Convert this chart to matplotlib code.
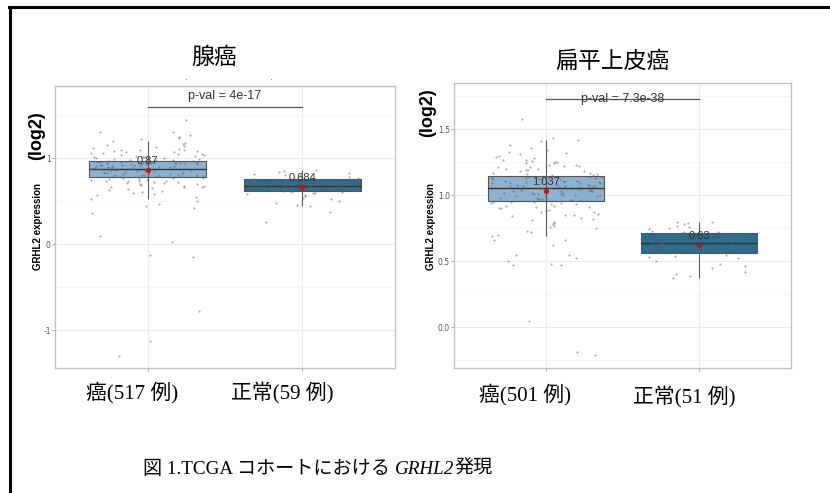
import math
import matplotlib
matplotlib.use("Agg")
import matplotlib.pyplot as plt
from matplotlib.lines import Line2D

SERIF_CJK = ['Liberation Serif', 'Noto Sans CJK JP']
SANS = ['Liberation Sans', 'DejaVu Sans']

# ---- data ----
panel_titles = ['腺癌', '扁平上皮癌']
group_labels = [['癌(517 例)', '正常(59 例)'], ['癌(501 例)', '正常(51 例)']]
p_values = ['p-val = 4e-17', 'p-val = 7.3e-38']
mean_labels = [['0.87', '0.684'], ['1.037', '0.63']]

box_q1 = [[0.78, 0.62], [0.955, 0.56]]
box_med = [[0.88, 0.675], [1.053, 0.636]]
box_q3 = [[0.965, 0.755], [1.144, 0.71]]
whisk_lo = [[0.53, 0.45], [0.69, 0.37]]
whisk_hi = [[1.20, 0.86], [1.42, 0.80]]
means = [[0.86, 0.66], [1.03, 0.62]]

adeno_cancer = [
    0.53, 0.55, 0.57, 0.58, 0.60, 0.61, 0.62, 0.63, 0.64, 0.65, 0.66, 0.66, 0.67, 0.68,
    0.68, 0.69, 0.70, 0.70, 0.71, 0.71, 0.72, 0.72, 0.73, 0.73, 0.74, 0.74, 0.75, 0.75,
    0.76, 0.76, 0.77, 0.77, 0.77, 0.78, 0.78, 0.79, 0.79, 0.79, 0.80, 0.80, 0.80, 0.81,
    0.81, 0.81, 0.82, 0.82, 0.82, 0.83, 0.83, 0.83, 0.84, 0.84, 0.84, 0.85, 0.85, 0.85,
    0.85, 0.86, 0.86, 0.86, 0.86, 0.87, 0.87, 0.87, 0.87, 0.88, 0.88, 0.88, 0.88, 0.88,
    0.89, 0.89, 0.89, 0.89, 0.90, 0.90, 0.90, 0.90, 0.91, 0.91, 0.91, 0.91, 0.92, 0.92,
    0.92, 0.92, 0.93, 0.93, 0.93, 0.93, 0.94, 0.94, 0.94, 0.94, 0.95, 0.95, 0.95, 0.95,
    0.96, 0.96, 0.96, 0.96, 0.96, 0.97, 0.97, 0.97, 0.98, 0.98, 0.98, 0.99, 0.99, 1.00,
    1.00, 1.01, 1.01, 1.02, 1.02, 1.03, 1.03, 1.04, 1.04, 1.05, 1.05, 1.06, 1.06, 1.07,
    1.07, 1.08, 1.08, 1.09, 1.10, 1.10, 1.11, 1.12, 1.13, 1.14, 1.15, 1.16, 1.18, 1.20,
    1.22, 1.24, 1.25, 1.27, 1.30, 1.31, 1.44, 0.50, 0.47, 0.44, 0.42, 0.36, 0.10, 0.02,
    -0.12, -0.15, -0.78, -1.13, -1.30,
]
adeno_normal = [
    0.26, 0.37, 0.44, 0.46, 0.48, 0.50, 0.52, 0.54, 0.56, 0.57, 0.58, 0.59, 0.60, 0.61,
    0.61, 0.62, 0.62, 0.63, 0.63, 0.64, 0.64, 0.65, 0.65, 0.66, 0.66, 0.66, 0.67, 0.67,
    0.67, 0.68, 0.68, 0.68, 0.69, 0.69, 0.69, 0.70, 0.70, 0.71, 0.71, 0.72, 0.72, 0.73,
    0.73, 0.74, 0.74, 0.75, 0.75, 0.76, 0.76, 0.77, 0.78, 0.79, 0.80, 0.81, 0.82, 0.83,
    0.84, 0.85, 0.86,
]
squam_cancer = [
    0.69, 0.70, 0.72, 0.73, 0.75, 0.76, 0.77, 0.78, 0.79, 0.80, 0.81, 0.82, 0.83, 0.84,
    0.85, 0.85, 0.86, 0.87, 0.87, 0.88, 0.89, 0.89, 0.90, 0.90, 0.91, 0.91, 0.92, 0.92,
    0.93, 0.93, 0.94, 0.94, 0.95, 0.95, 0.95, 0.96, 0.96, 0.96, 0.97, 0.97, 0.97, 0.98,
    0.98, 0.98, 0.99, 0.99, 0.99, 1.00, 1.00, 1.00, 1.01, 1.01, 1.01, 1.02, 1.02, 1.02,
    1.03, 1.03, 1.03, 1.03, 1.04, 1.04, 1.04, 1.04, 1.05, 1.05, 1.05, 1.05, 1.05, 1.05,
    1.06, 1.06, 1.06, 1.06, 1.07, 1.07, 1.07, 1.07, 1.08, 1.08, 1.08, 1.08, 1.09, 1.09,
    1.09, 1.09, 1.10, 1.10, 1.10, 1.10, 1.11, 1.11, 1.11, 1.11, 1.12, 1.12, 1.12, 1.12,
    1.13, 1.13, 1.13, 1.13, 1.14, 1.14, 1.14, 1.15, 1.15, 1.16, 1.16, 1.17, 1.17, 1.18,
    1.18, 1.19, 1.19, 1.20, 1.20, 1.21, 1.21, 1.22, 1.22, 1.23, 1.23, 1.24, 1.24, 1.25,
    1.25, 1.26, 1.27, 1.27, 1.28, 1.29, 1.30, 1.31, 1.32, 1.33, 1.34, 1.36, 1.38, 1.42,
    1.58, 1.43, 1.41, 0.66, 0.66, 0.62, 0.55, 0.55, 0.52, 0.50, 0.48, 0.47, 0.47, 0.05,
    -0.19, -0.21,
]
squam_normal = [
    0.37, 0.39, 0.40, 0.42, 0.45, 0.46, 0.48, 0.50, 0.52, 0.53, 0.54, 0.55, 0.56, 0.57,
    0.58, 0.58, 0.59, 0.60, 0.60, 0.61, 0.62, 0.62, 0.63, 0.63, 0.64, 0.64, 0.65, 0.65,
    0.66, 0.66, 0.67, 0.67, 0.68, 0.68, 0.69, 0.69, 0.70, 0.70, 0.71, 0.71, 0.72, 0.72,
    0.73, 0.74, 0.75, 0.76, 0.77, 0.78, 0.79, 0.80, 0.80,
]
points = [[adeno_cancer, adeno_normal], [squam_cancer, squam_normal]]

y_ticks = [[-1, 0, 1], [0.0, 0.5, 1.0, 1.5]]
y_ticklabels = [['-1', '0', '1'], ['0.0', '0.5', '1.0', '1.5']]
y_minor = [[-0.5, 0.5, 1.5], [-0.25, 0.25, 0.75, 1.25, 1.75]]
y_lims = [(-1.44, 1.84), (-0.31, 1.85)]
pval_y = [1.60, 1.73]

# ---- layout ----
box_colors = ['#8cb1d1', '#2f6a89']
W, H = 830, 493
fig = plt.figure(figsize=(W / 100, H / 100), dpi=100)
fig.patch.set_facecolor('white')

axes_px = [(55, 86, 395, 368), (454, 83, 791, 368)]   # left, top, right, bottom
title_px = [(214, 58), (612, 62)]
xlabel_px = [[(132, 393), (282, 393)], [(525, 395), (684, 397)]]
ylabel_px = [[(37, 136), (38, 227)], [(428, 113), (431, 226)]]


def jitter(i, k):
    # deterministic hash-based spread for the strip points
    h = math.sin(i * 12.9898 + k * 78.233) * 43758.5453
    return (h - math.floor(h) - 0.5) * 0.74


for k in range(2):
    l, t, r, b = axes_px[k]
    ax = fig.add_axes([l / W, 1 - b / H, (r - l) / W, (b - t) / H])
    ax.set_xlim(0.4, 2.6)
    ax.set_ylim(*y_lims[k])
    ax.set_yticks(y_ticks[k])
    ax.set_yticklabels(y_ticklabels[k])
    ax.set_yticks(y_minor[k], minor=True)
    ax.set_xticks([1, 2])
    ax.set_xticklabels(['', ''])
    ax.grid(True, which='major', color='#ebebeb', lw=0.7, zorder=0)
    ax.grid(True, which='minor', axis='y', color='#f3f3f3', lw=0.5, zorder=0)
    ax.tick_params(axis='both', which='major', length=2, width=0.6, color='#999999',
                   labelsize=5.5, labelcolor='#555555', pad=1)
    ax.tick_params(axis='y', which='minor', length=0)
    for s in ax.spines.values():
        s.set_color('#c2c2c2')
        s.set_linewidth(1.0)
    ax.set_axisbelow(True)

    for g in range(2):
        x0 = g + 1
        ax.bar(x0, box_q3[k][g] - box_q1[k][g], bottom=box_q1[k][g], width=0.76,
               color=box_colors[g], edgecolor='#555555', linewidth=0.8, zorder=2)
        ax.vlines(x0, whisk_lo[k][g], whisk_hi[k][g], color='#5a5a5a', lw=0.8, zorder=3)
        ax.hlines(box_med[k][g], x0 - 0.38, x0 + 0.38, color='#333333', lw=1.0, zorder=3)
        vals = points[k][g]
        xs = [x0 + jitter(i, 2 * k + g) for i in range(len(vals))]
        ax.scatter(xs, vals, s=2.4, color='#666666', alpha=0.55, lw=0, zorder=4)
        ax.scatter([x0], [means[k][g]], s=14, color='#c0141b', lw=0, zorder=5)
        ax.annotate(mean_labels[k][g], (x0, means[k][g]), xytext=(0, 3),
                    textcoords='offset points', ha='center', va='bottom',
                    fontsize=8, color='#333333', family=SANS, zorder=6)

    ax.plot([1, 2], [pval_y[k], pval_y[k]], color='#555555', lw=0.9, zorder=5)
    if k == 0:
        ax.annotate(p_values[k], (1.5, pval_y[k]), xytext=(0, 3), textcoords='offset points',
                    ha='center', va='bottom', fontsize=9, color='#333333', family=SANS)
    else:
        ax.text(1.5, pval_y[k], p_values[k], ha='center', va='center', fontsize=9,
                color='#333333', family=SANS, zorder=6)

    # titles, group labels, y labels as figure text
    tx, ty = title_px[k]
    fig.text(tx / W, 1 - ty / H, panel_titles[k], ha='center', va='center',
             fontsize=16.5, family=SERIF_CJK)
    for g in range(2):
        gx, gy = xlabel_px[k][g]
        fig.text(gx / W, 1 - gy / H, group_labels[k][g], ha='center', va='center',
                 fontsize=15, family=SERIF_CJK)
    (lx1, ly1), (lx2, ly2) = ylabel_px[k]
    fig.text(lx1 / W, 1 - ly1 / H, '(log2)', rotation=90, ha='center', va='center',
             fontsize=13, fontweight='bold', family=SANS)
    fig.text(lx2 / W, 1 - ly2 / H, 'GRHL2 expression', rotation=90, ha='center',
             va='center', fontsize=7, fontweight='semibold', family=SANS)

# outer frame (top and left edges)
fig.add_artist(Line2D([9 / W, 1.0], [1 - 7 / H, 1 - 7 / H], color='black', lw=2.2,
                      transform=fig.transFigure))
fig.add_artist(Line2D([9.5 / W, 9.5 / W], [0, 1 - 7 / H], color='black', lw=2.2,
                      transform=fig.transFigure))
# two faint stray marks above the left panel
fig.add_artist(Line2D([186 / W, 271 / W], [1 - 79 / H, 1 - 79 / H], ls='none', marker='o',
                      ms=0.8, mew=0, color='#888888', transform=fig.transFigure))

# caption with italic gene name
caption_parts = [('図 1.TCGA コホートにおける ', 'normal'), ('GRHL2', 'italic'), ('発現', 'normal')]
fig.canvas.draw()
renderer = fig.canvas.get_renderer()
cx = 143 / W
cy = 1 - 469 / H
for txt, style in caption_parts:
    t = fig.text(cx, cy, txt, ha='left', va='center', fontsize=13.8, style=style,
                 family=SERIF_CJK)
    bb = t.get_window_extent(renderer=renderer)
    cx += bb.width / W

fig.savefig('out.png', dpi=100, facecolor='white')
